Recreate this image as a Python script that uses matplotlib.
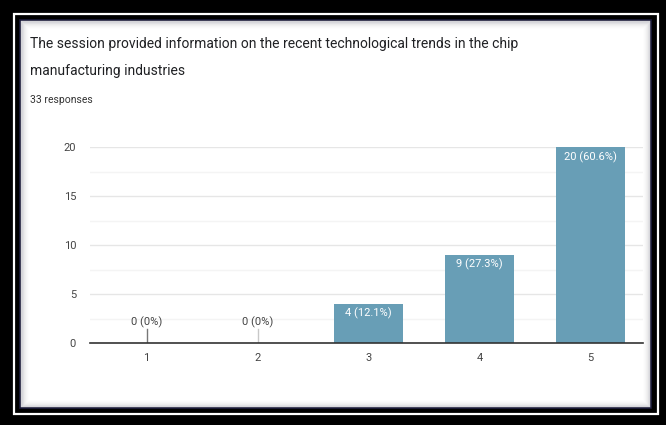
import matplotlib.pyplot as plt
from matplotlib.patches import Rectangle
import numpy as np

plt.rcParams['font.family'] = ['Roboto', 'DejaVu Sans']

# données
categories = ["1", "2", "3", "4", "5"]
counts = [0, 0, 4, 9, 20]
labels = ["0 (0%)", "0 (0%)", "4 (12.1%)", "9 (27.3%)", "20 (60.6%)"]
titre_l1 = "The session provided information on the recent technological trends in the chip"
titre_l2 = "manufacturing industries"
sous_titre = "33 responses"

W, H = 666, 425
fig = plt.figure(figsize=(W / 100, H / 100), dpi=100)
fig.set_facecolor('black')


def rect(x0, y0, x1, y1, **kw):
    # coordonnées en pixels (origine en haut à gauche)
    return Rectangle((x0 / W, 1 - y1 / H), (x1 - x0) / W, (y1 - y0) / H,
                     transform=fig.transFigure, zorder=0, **kw)


# cadre blanc fin
fig.add_artist(rect(14, 14, 658, 414, fill=False, edgecolor='white', linewidth=1.6))
# carte
fig.add_artist(rect(20, 20, 651, 408, facecolor='white', edgecolor='#1a1a3a', linewidth=1.2))
# ombre intérieure
for i in range(8):
    a = 0.22 * (1 - i / 8) ** 2
    fig.add_artist(rect(21 + i, 21 + i, 650 - i, 407 - i, fill=False,
                        edgecolor=(0.35, 0.35, 0.4, a), linewidth=1.0))

fig.text(30 / W, 1 - 44 / H, titre_l1, fontsize=10, color='#202124', va='center', ha='left')
fig.text(30 / W, 1 - 71 / H, titre_l2, fontsize=10, color='#202124', va='center', ha='left')
fig.text(30 / W, 1 - 100 / H, sous_titre, fontsize=7.5, color='#333333',
         va='center', ha='left')

ax = fig.add_axes([90 / W, 1 - 343 / H, 553 / W, 196 / H])
ax.set_zorder(2)
ax.patch.set_alpha(0)
x = np.arange(1, len(categories) + 1)
couleur = '#689eb6'
ax.bar(x, counts, width=0.62, color=couleur, zorder=3)

for xi, c, lab in zip(x, counts, labels):
    if c == 0:
        ax.plot([xi, xi], [0, 1.45], color='#777777' if xi == 1 else '#c8c8c8',
                linewidth=1, zorder=3)
        ax.text(xi, 1.55, lab, ha='center', va='bottom', fontsize=8, color='#444444')
    else:
        ax.annotate(lab, (xi, c), xytext=(0, -3), textcoords='offset points',
                    ha='center', va='top', fontsize=8, color='white', zorder=4)

ax.set_xlim(0.49, 5.47)
ax.set_ylim(0, 20)
ax.set_yticks([0, 5, 10, 15, 20])
ax.set_yticks([2.5, 7.5, 12.5, 17.5], minor=True)
ax.set_xticks(x)
ax.set_xticklabels(categories)
ax.grid(axis='y', which='major', color='#e6e6e6', linewidth=1, zorder=0)
ax.grid(axis='y', which='minor', color='#f4f4f4', linewidth=1, zorder=0)
for s in ['top', 'right', 'left']:
    ax.spines[s].set_visible(False)
ax.spines['bottom'].set_color('#333333')
ax.spines['bottom'].set_linewidth(1.2)
ax.spines['bottom'].set_zorder(5)
ax.tick_params(axis='both', which='both', length=0, labelsize=8, colors='#444444')
ax.tick_params(axis='y', pad=10)
ax.tick_params(axis='x', pad=7)

fig.savefig('out.png', dpi=100, facecolor=fig.get_facecolor())
